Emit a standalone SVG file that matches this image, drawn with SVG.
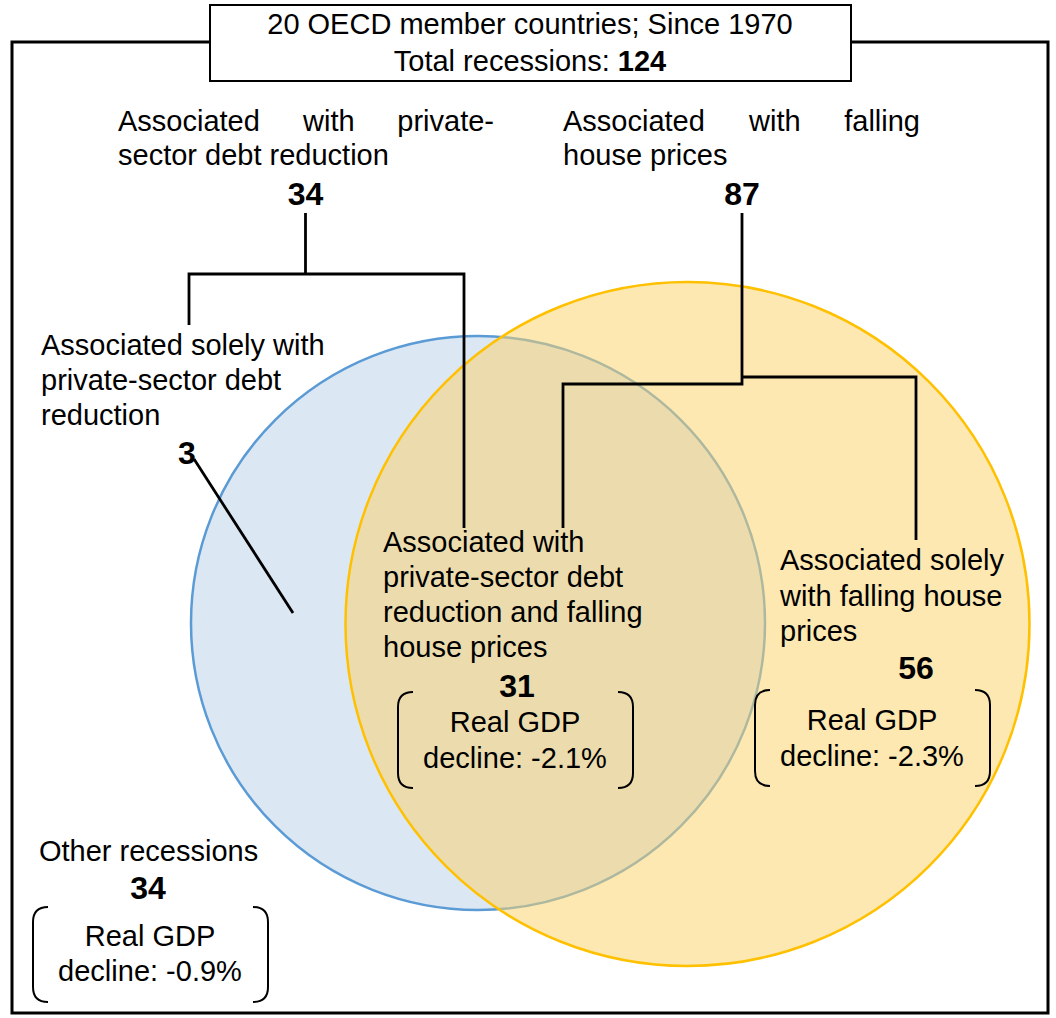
<svg xmlns="http://www.w3.org/2000/svg" width="1056" height="1018" viewBox="0 0 1056 1018">
<style>
text{font-family:"Liberation Sans",Arial,sans-serif;font-size:29px;fill:#000}
.b{font-weight:bold;font-size:32px}
.m{text-anchor:middle}
.e{text-anchor:end}
.c{fill:none;stroke:#000;stroke-width:2.8}
.br{fill:none;stroke:#000;stroke-width:2}
</style>
<rect width="1056" height="1018" fill="#fff"/>
<g id="frame"><path d="M210 42 H12 V1013 H1048 V42 H851" fill="none" stroke="#000" stroke-width="3"/></g>
<g id="circles">
<circle id="blue" cx="478" cy="623" r="287" fill="#dce7f4" stroke="#5b9bd5" stroke-width="2.5"/>
<circle id="yellow-fill" cx="687.5" cy="624" r="342" fill="#fcd36c" fill-opacity="0.52"/>
<circle id="yellow-stroke" cx="687.5" cy="624" r="342" fill="none" stroke="#ffc000" stroke-width="2.5"/>
</g>
<g id="connectors">
<path class="c" d="M305.5 213 V274 M189 325 V274 H464 V528"/>
<path class="c" d="M742 213 V384 H563 V528 M742 377 H916 V540"/>
<path class="c" d="M194 459 L293 613"/>
</g>
<g id="top-box">
<rect x="210" y="5" width="641" height="76" fill="#fff" stroke="#000" stroke-width="2"/>
<text class="m" x="530" y="34">20 OECD member countries; Since 1970</text>
<text class="m" x="530" y="71">Total recessions: <tspan font-weight="bold">124</tspan></text>
</g>
<g id="debt">
<text x="118" y="131">Associated</text>
<text x="303" y="131">with</text>
<text class="e" x="494" y="131">private-</text>
<text x="118" y="165">sector debt reduction</text>
<text class="b m" x="305.5" y="205">34</text>
</g>
<g id="house">
<text x="563" y="131">Associated</text>
<text x="749" y="131">with</text>
<text class="e" x="920" y="131">falling</text>
<text x="563" y="165">house prices</text>
<text class="b m" x="742" y="205">87</text>
</g>
<g id="solely-debt">
<text x="41" y="355">Associated solely with</text>
<text x="41" y="390">private-sector debt</text>
<text x="41" y="425">reduction</text>
<text class="b" x="178" y="464">3</text>
</g>
<g id="both">
<text x="383" y="552">Associated with</text>
<text x="383" y="587">private-sector debt</text>
<text x="383" y="622">reduction and falling</text>
<text x="383" y="657">house prices</text>
<text class="b m" x="517" y="697">31</text>
<path class="br" d="M413 692 Q398 692 398 707 V773 Q398 788 413 788 M618 692 Q633 692 633 707 V773 Q633 788 618 788"/>
<text class="m" x="515" y="732">Real GDP</text>
<text class="m" x="515" y="768">decline: -2.1%</text>
</g>
<g id="solely-house">
<text x="780" y="570">Associated solely</text>
<text x="780" y="606">with falling house</text>
<text x="780" y="641">prices</text>
<text class="b m" x="916" y="679">56</text>
<path class="br" d="M770 690 Q755 690 755 705 V771 Q755 786 770 786 M975 690 Q990 690 990 705 V771 Q990 786 975 786"/>
<text class="m" x="872" y="730">Real GDP</text>
<text class="m" x="872" y="766">decline: -2.3%</text>
</g>
<g id="other">
<text x="39" y="861">Other recessions</text>
<text class="b m" x="148" y="899">34</text>
<path class="br" d="M48 907 Q33 907 33 922 V987 Q33 1002 48 1002 M253 907 Q268 907 268 922 V987 Q268 1002 253 1002"/>
<text class="m" x="150" y="946">Real GDP</text>
<text class="m" x="150" y="981">decline: -0.9%</text>
</g>
</svg>
